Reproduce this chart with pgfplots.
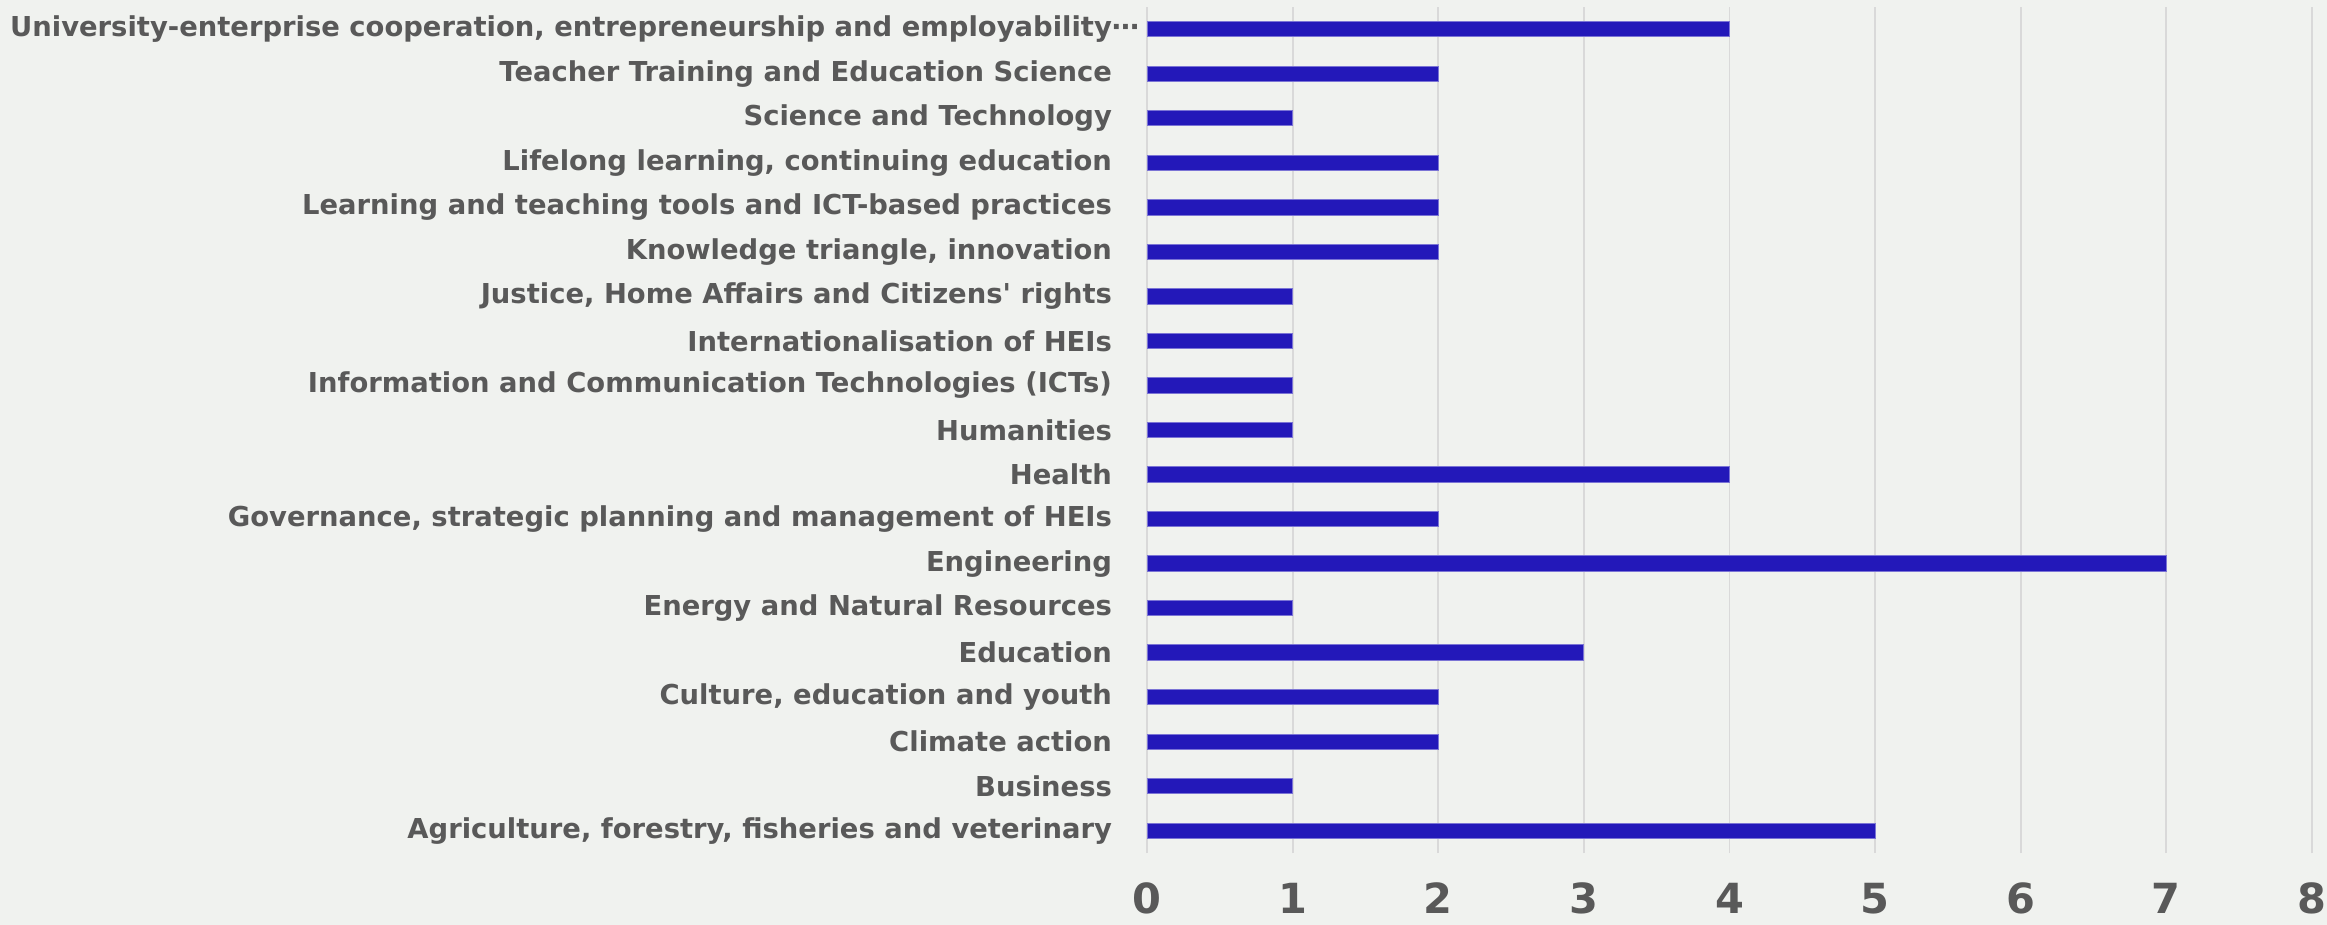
\documentclass[border=0pt]{standalone}
\usepackage{pgfplots}
\pgfplotsset{compat=1.18}
\usepackage{fontspec}
\setmainfont{DejaVu Sans}[Ligatures=TeXOff]
\definecolor{bg}{HTML}{F0F2EF}
\definecolor{barc}{HTML}{2318B9}
\definecolor{txt}{HTML}{595959}
\definecolor{gridc}{HTML}{D9D9D9}
\begin{document}
\begin{tikzpicture}
\fill[bg] (0,0) rectangle (698.1bp,277.5bp);
\path[use as bounding box] (0,0) rectangle (698.1bp,277.5bp);
\begin{axis}[
  at={(344.1bp,21.6bp)}, anchor=south west,
  width=349.5bp, height=253.8bp, scale only axis,
  xbar, bar width=4.6bp,
  xmin=0, xmax=8, ymin=-0.5, ymax=18.5,
  axis line style={draw=none},
  xmajorgrids=true, ymajorgrids=false, major grid style={draw=gridc, line width=0.6pt},
  xtick={0,...,8}, major tick length=0pt,
  ytick={0,...,18},
  yticklabels={
    {Agriculture, forestry, fisheries and veterinary},
    Business,
    Climate action,
    {Culture, education and youth},
    Education,
    Energy and Natural Resources,
    Engineering,
    {Governance, strategic planning and management of HEIs},
    Health,
    Humanities,
    Information and Communication Technologies (ICTs),
    Internationalisation of HEIs,
    {Justice, Home Affairs and Citizens' rights},
    {Knowledge triangle, innovation},
    {Learning and teaching tools and ICT-based practices\ },
    {Lifelong learning, continuing education},
    Science and Technology,
    Teacher Training and Education Science,
    {University-enterprise cooperation, entrepreneurship and employability\rlap{⋯}}
  },
  yticklabel style={font=\fontsize{8.25}{9.8}\selectfont\bfseries, text=txt, xshift=-7bp},
  xticklabel style={font=\fontsize{12.5}{14}\selectfont\bfseries, text=txt, yshift=-5.5bp},
  /pgf/number format/assume math mode=true,
]
\addplot[fill=barc, draw=barc!60!white, line width=0.3pt] table[x=v, y=i] {
i v
0 5
1 1
2 2
3 2
4 3
5 1
6 7
7 2
8 4
9 1
10 1
11 1
12 1
13 2
14 2
15 2
16 1
17 2
18 4
};
\end{axis}
\end{tikzpicture}
\end{document}
